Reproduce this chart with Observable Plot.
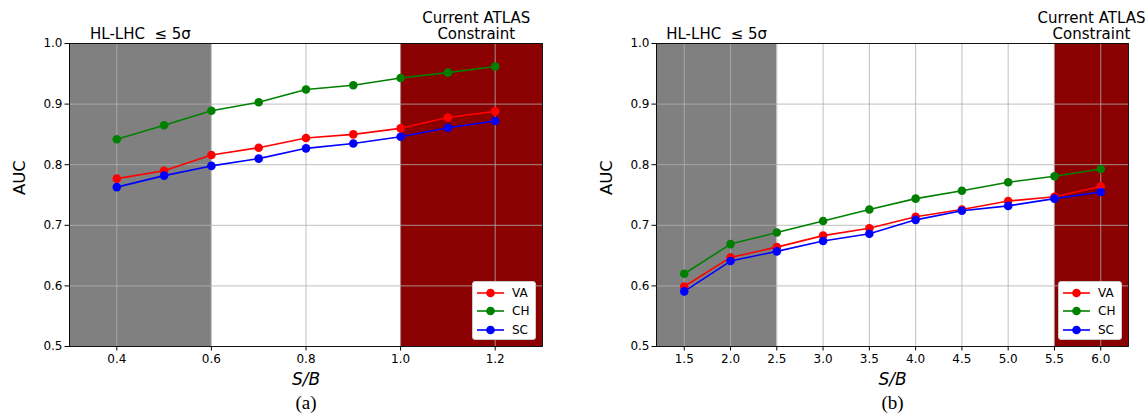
<!DOCTYPE html>
<html>
<head>
<meta charset="utf-8">
<script src="https://cdn.jsdelivr.net/npm/d3@7"></script>
<script src="https://cdn.jsdelivr.net/npm/@observablehq/plot@0.6"></script>
<style>
  html, body { margin: 0; padding: 0; background: #fff; }
  #wrap { display: flex; width: 1148px; height: 414px; }
  .panel { position: relative; width: 574px; height: 414px; }
  .panel svg text { font-family: "DejaVu Sans", sans-serif; }
  .panel svg text.serif, .panel svg g.serif text { font-family: "Liberation Serif", serif; }
  .legend { position: absolute; background: #fff; border: 1px solid #cccccc; border-radius: 3px;
            font-family: "DejaVu Sans", sans-serif; font-size: 12px; box-sizing: border-box; }
  .legend .row { position: absolute; left: 0; height: 18px; display: flex; align-items: center; }
  .legend svg { display: block; }
</style>
</head>
<body>
<div id="wrap"></div>
<script>
// ---- data ----
const series = ["VA", "CH", "SC"];
const seriesColors = ["red", "green", "blue"];

// panel (a)
const sbA = [0.4, 0.5, 0.6, 0.7, 0.8, 0.9, 1.0, 1.1, 1.2];
const vaA = [0.777, 0.790, 0.816, 0.828, 0.844, 0.850, 0.860, 0.878, 0.888];
const chA = [0.842, 0.865, 0.889, 0.903, 0.924, 0.931, 0.943, 0.952, 0.962];
const scA = [0.763, 0.782, 0.798, 0.810, 0.827, 0.835, 0.846, 0.861, 0.872];
const xTicksA = [0.4, 0.6, 0.8, 1.0, 1.2];
const xDomainA = [0.3, 1.3];
const grayA = [0.3, 0.6];
const redA = [1.0, 1.3];
const atlasXA = 1.16;

// panel (b)
const sbB = [1.5, 2.0, 2.5, 3.0, 3.5, 4.0, 4.5, 5.0, 5.5, 6.0];
const vaB = [0.599, 0.647, 0.664, 0.683, 0.695, 0.714, 0.726, 0.740, 0.747, 0.764];
const chB = [0.620, 0.669, 0.688, 0.707, 0.726, 0.744, 0.757, 0.771, 0.781, 0.793];
const scB = [0.591, 0.641, 0.657, 0.674, 0.686, 0.709, 0.724, 0.732, 0.744, 0.755];
const xTicksB = [1.5, 2.0, 2.5, 3.0, 3.5, 4.0, 4.5, 5.0, 5.5, 6.0];
const xDomainB = [1.2, 6.3];
const grayB = [1.2, 2.5];
const redB = [5.5, 6.3];
const atlasXB = 5.9;

const yTicks = [0.5, 0.6, 0.7, 0.8, 0.9, 1.0];
const yDomain = [0.5, 1.0];

const hlText = "HL-LHC  \u2264 5\u03c3";
const atlasText = "Current ATLAS\nConstraint";

function panel({xs, vals, xDomain, xTicks, gray, red, atlasX, caption, marginLeft, marginRight, legendLeft}) {
  const rows = [];
  series.forEach((s, i) => xs.forEach((x, j) => rows.push({series: s, x, y: vals[i][j]})));
  const regions = [
    {x1: gray[0], x2: gray[1], fill: "#808080"},
    {x1: red[0], x2: red[1], fill: "#8b0000"}
  ];
  const plot = Plot.plot({
    width: 574, height: 414,
    marginLeft, marginRight, marginTop: 43, marginBottom: 68,
    style: {fontFamily: "'DejaVu Sans', sans-serif", fontSize: "12px", color: "#000", background: "#fff", overflow: "visible"},
    x: {domain: xDomain, label: null},
    y: {domain: yDomain, label: null},
    color: {domain: series, range: seriesColors},
    marks: [
      Plot.rect(regions, {x1: "x1", x2: "x2", fill: "fill"}),
      Plot.gridX(xTicks, {stroke: "#b0b0b0", strokeOpacity: 1, strokeWidth: 0.8}),
      Plot.gridY(yTicks, {stroke: "#b0b0b0", strokeOpacity: 1, strokeWidth: 0.8}),
      Plot.line(rows, {x: "x", y: "y", z: "series", stroke: "series", strokeWidth: 1.6}),
      Plot.dot(rows, {x: "x", y: "y", fill: "series", r: 4.3}),
      Plot.frame({stroke: "#000", strokeWidth: 0.9}),
      Plot.axisX(xTicks, {tickFormat: d3.format(".1f"), tickSize: 4.5, tickPadding: 3, label: null, fontSize: 12}),
      Plot.axisY(yTicks, {tickFormat: d3.format(".1f"), tickSize: 4.5, tickPadding: 2.5, label: null, fontSize: 12}),
      Plot.text(["AUC"], {frameAnchor: "left", dx: -50, rotate: -90, fontSize: 16.5, fill: "#000"}),
      Plot.text(["S/B"], {frameAnchor: "bottom", lineAnchor: "middle", dy: 33, fontSize: 17, fontStyle: "italic", fill: "#000"}),
      Plot.text([caption], {frameAnchor: "bottom", lineAnchor: "middle", dy: 56, fontSize: 19, className: "serif", fill: "#000"}),
      Plot.text([hlText], {x: () => (gray[0] + gray[1]) / 2, frameAnchor: "top", lineAnchor: "middle", dy: -9.5, fontSize: 15, fill: "#000"}),
      Plot.text([atlasText], {x: () => atlasX, frameAnchor: "top", lineAnchor: "middle", dy: -18, lineHeight: 1.1, fontSize: 15, fill: "#000"})
    ]
  });
  const div = document.createElement("div");
  div.className = "panel";
  div.appendChild(plot);
  // legend
  const leg = document.createElement("div");
  leg.className = "legend";
  leg.style.left = legendLeft + "px";
  leg.style.top = "281px";
  leg.style.width = "64px";
  leg.style.height = "59px";
  series.forEach((s, i) => {
    const r = document.createElement("div");
    r.className = "row";
    r.style.top = (2 + i * 18.3) + "px";
    r.innerHTML = `<svg width="36" height="18"><line x1="4" x2="31" y1="9" y2="9" stroke="${seriesColors[i]}" stroke-width="1.6"/><circle cx="17.5" cy="9" r="4.3" fill="${seriesColors[i]}"/></svg><span style="margin-left:3px">${s}</span>`;
    leg.appendChild(r);
  });
  div.appendChild(leg);
  return div;
}

const wrap = document.getElementById("wrap");
wrap.appendChild(panel({xs: sbA, vals: [vaA, chA, scA], xDomain: xDomainA, xTicks: xTicksA, gray: grayA, red: redA,
  atlasX: atlasXA, caption: "(a)", marginLeft: 69, marginRight: 32, legendLeft: 472}));
wrap.appendChild(panel({xs: sbB, vals: [vaB, chB, scB], xDomain: xDomainB, xTicks: xTicksB, gray: grayB, red: redB,
  atlasX: atlasXB, caption: "(b)", marginLeft: 82, marginRight: 20, legendLeft: 484}));
</script>
</body>
</html>
